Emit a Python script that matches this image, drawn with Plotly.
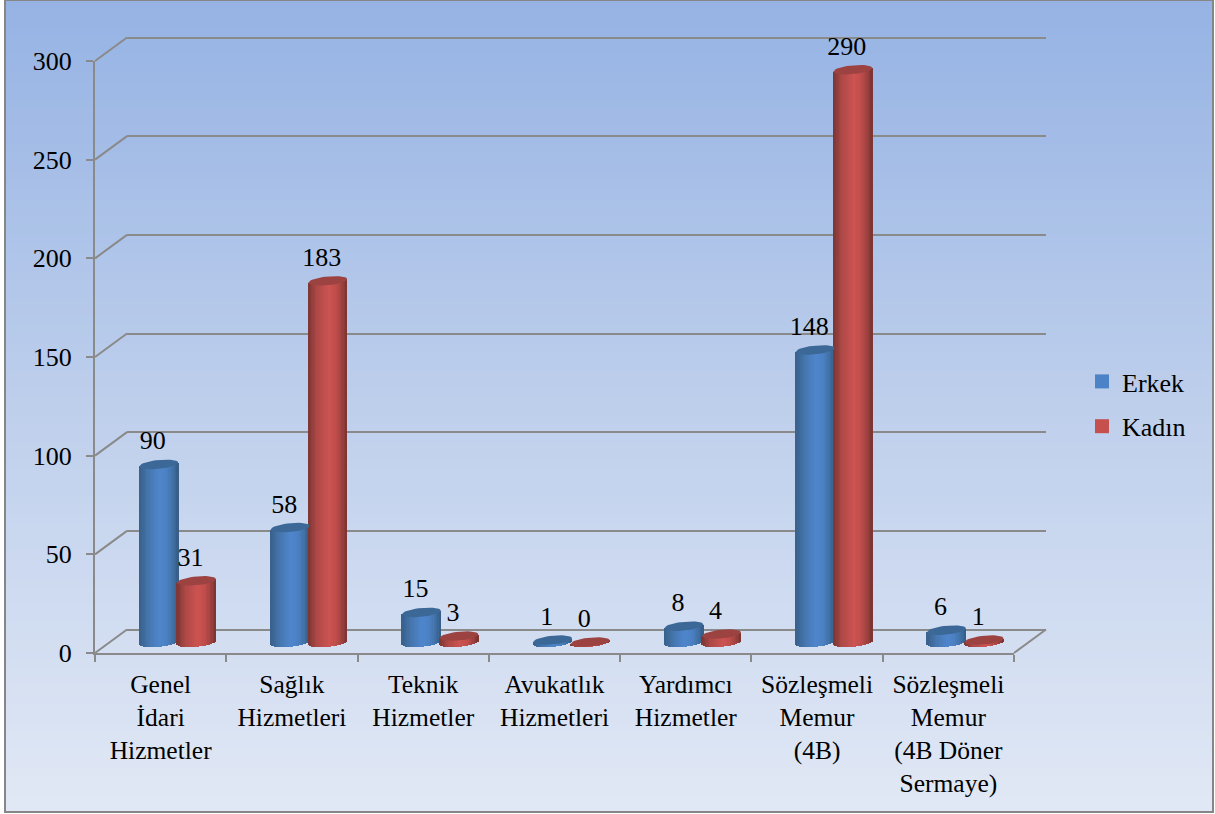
import math
import plotly.graph_objects as go

categories = ["Genel<br>İdari<br>Hizmetler", "Sağlık<br>Hizmetleri", "Teknik<br>Hizmetler",
              "Avukatlık<br>Hizmetleri", "Yardımcı<br>Hizmetler", "Sözleşmeli<br>Memur<br>(4B)",
              "Sözleşmeli<br>Memur<br>(4B Döner<br>Sermaye)"]
erkek = [90, 58, 15, 1, 8, 148, 6]
kadin = [31, 183, 3, 0, 4, 290, 1]
y_ticks = [0, 50, 100, 150, 200, 250, 300]

W, H = 1215, 814
FONT = "Liberation Serif"
FS = 26
GRID = "#8a8a8a"

# plane geometry in pixels
X0, X1 = 95, 1014
Y0, Y300 = 653, 61
DX, DY = 32, 23.5      # wall depth
CX, CY = 17, 11        # cylinder depth
PPU = (Y0 - Y300) / 300
CAT = (X1 - X0) / 7

def fx(p): return p / W
def fy(p): return 1 - p / H

# colours across a cylinder, left edge to right edge
BLUE = [(-1, (56, 96, 140)), (-.6, (68, 116, 170)), (0, (79, 134, 204)), (.45, (75, 128, 195)), (.8, (64, 110, 162)), (1, (54, 92, 132))]
RED = [(-1, (124, 54, 52)), (-.6, (172, 72, 70)), (.05, (205, 84, 82)), (.45, (192, 78, 76)), (.8, (156, 64, 62)), (1, (120, 52, 50))]
TOP_BLUE = "#3c6897"
TOP_RED = "#9c4342"

def shade(stops, u):
    for (a, ca), (b, cb) in zip(stops, stops[1:]):
        if a <= u <= b:
            t = (u - a) / (b - a)
            return "rgb(%d,%d,%d)" % tuple(round(p + (q - p) * t) for p, q in zip(ca, cb))
    return "rgb(%d,%d,%d)" % stops[-1][1]

BW = 38.8 / CAT / 2      # half width in category units
SEP = 18.8 / CAT         # series offset from category centre
EB = 4.4 / PPU           # ellipse semi-minor in value units
TILT = 1.8 / PPU         # ellipse rise from left to right
STRIPS = 30

def cylinder(name, values, sign, stops, top):
    xs, ys, bases, widths, colors = [], [], [], [], []
    order = sorted(range(STRIPS), key=lambda k: abs(k - STRIPS / 2))
    for k in order:
        u = (k + .5) / STRIPS * 2 - 1
        for i, v in enumerate(values):
            low = -EB * math.sqrt(1 - u * u) + TILT * u
            high = v + TILT * u
            xs.append(i + sign * SEP + u * BW)
            bases.append(low)
            ys.append(high - low)
            widths.append(2 * BW / STRIPS * 1.4)
            colors.append(shade(stops, u))
    bar = go.Bar(x=xs, y=ys, base=bases, width=widths, name=name, legendgroup=name, showlegend=False,
                 marker=dict(color=colors, line=dict(width=0)), xaxis="x3", yaxis="y3", hoverinfo="skip")
    ex, ey = [], []
    for i, v in enumerate(values):
        for a in range(0, 41):
            t = 2 * math.pi * a / 40
            ex.append(i + sign * SEP + BW * math.cos(t))
            ey.append(v + EB * math.sin(t) + TILT * math.cos(t))
        ex.append(None); ey.append(None)
    cap = go.Scatter(x=ex, y=ey, mode="lines", fill="toself", fillcolor=top, line=dict(width=0), name=name,
                     legendgroup=name, showlegend=False, xaxis="x3", yaxis="y3", hoverinfo="skip")
    labels = go.Scatter(x=[i + sign * SEP - 6 / CAT for i in range(7)], y=[v + 21.5 / PPU for v in values],
                        text=[str(v) for v in values], mode="text", textposition="middle center",
                        textfont=dict(family=FONT, size=FS, color="black"), cliponaxis=False, name=name,
                        legendgroup=name, showlegend=False, xaxis="x3", yaxis="y3", hoverinfo="skip")
    key = go.Scatter(x=[None], y=[None], mode="markers", name=name, legendgroup=name,
                     marker=dict(symbol="square", size=14, color=shade(stops, .3)), xaxis="x3", yaxis="y3")
    return [bar, cap, labels, key]

fig = go.Figure()
fig.add_trace(go.Scatter(x=categories, y=[0] * 7, mode="none", showlegend=False, hoverinfo="skip"))
fig.add_trace(go.Scatter(x=[0], y=[0], mode="none", showlegend=False, xaxis="x2", yaxis="y2", hoverinfo="skip"))
for tr in cylinder("Erkek", erkek, -1, BLUE, TOP_BLUE) + cylinder("Kadın", kadin, 1, RED, TOP_RED):
    fig.add_trace(tr)

# background gradient, wall connectors, frame
shapes = []
N = 90
g0, g1, g2 = (150, 179, 228), (190, 207, 236), (225, 232, 245)
for i in range(N):
    t = i / (N - 1)
    c = [round(a + (b - a) * t * 2) for a, b in zip(g0, g1)] if t < .5 else [round(a + (b - a) * (t - .5) * 2) for a, b in zip(g1, g2)]
    shapes.append(dict(type="rect", xref="paper", yref="paper", x0=fx(5), x1=fx(1213),
                       y0=fy(812 * i / N), y1=fy(812 * (i + 1) / N + 1), layer="below",
                       line=dict(width=0), fillcolor="rgb(%d,%d,%d)" % tuple(c)))
for v in y_ticks:
    py = Y0 - v * PPU
    shapes.append(dict(type="line", xref="paper", yref="paper", x0=fx(X0), x1=fx(X0 + DX), y0=fy(py), y1=fy(py - DY),
                       layer="below", line=dict(color=GRID, width=2)))
shapes.append(dict(type="line", xref="paper", yref="paper", x0=fx(X1), x1=fx(X1 + DX), y0=fy(Y0), y1=fy(Y0 - DY),
                   layer="below", line=dict(color=GRID, width=2)))
shapes.append(dict(type="rect", xref="paper", yref="paper", x0=fx(5), x1=fx(1213), y0=fy(812), y1=fy(0),
                   layer="below", line=dict(color="#868686", width=2)))

EXT = 8   # value units of headroom below zero for cylinder bases
TOPX = 25 # value units of headroom above 300 so the tallest label is kept
PAD = 5   # value units around the back wall so its outer gridlines are kept
fig.update_layout(
    width=W, height=H, margin=dict(l=0, r=0, t=0, b=0, autoexpand=False), paper_bgcolor="white", plot_bgcolor="rgba(0,0,0,0)",
    barmode="overlay", bargap=0, shapes=shapes,
    font=dict(family=FONT, size=FS, color="black"),
    xaxis=dict(type="category", categoryorder="array", categoryarray=categories, range=[-.5, 6.5],
               domain=[fx(X0), fx(X1)], anchor="y", showgrid=False, zeroline=False, showline=True,
               linecolor=GRID, linewidth=2, ticks="outside", ticklen=7, tickwidth=2, tickcolor=GRID,
               tickson="boundaries", tickangle=0, ticklabelstandoff=7, tickfont=dict(family=FONT, size=25.5)),
    yaxis=dict(range=[0, 300], domain=[fy(Y0), fy(Y300)], anchor="x", tickvals=y_ticks, showgrid=False,
               zeroline=False, showline=True, linecolor=GRID, linewidth=2, ticks="outside", ticklen=7,
               tickwidth=2, tickcolor=GRID, ticklabelstandoff=9, tickfont=dict(family=FONT, size=FS)),
    xaxis2=dict(range=[-.5, 6.5], domain=[fx(X0 + DX), fx(X1 + DX)], anchor="y2", visible=False),
    yaxis2=dict(range=[-PAD, 300 + PAD], domain=[fy(Y0 - DY + PAD * PPU), fy(Y300 - DY - PAD * PPU)], anchor="x2", tickvals=y_ticks,
                showgrid=True, gridcolor=GRID, gridwidth=2, zeroline=False,
                showticklabels=False, ticks="", showline=False),
    xaxis3=dict(range=[-.5, 6.5], domain=[fx(X0 + CX), fx(X1 + CX)], anchor="y3", visible=False),
    yaxis3=dict(range=[-EXT, 300 + TOPX], domain=[fy(Y0 - CY + EXT * PPU), fy(Y300 - CY - TOPX * PPU)], anchor="x3", visible=False),
    legend=dict(x=fx(1082), y=fy(358), xanchor="left", yanchor="top", bgcolor="rgba(0,0,0,0)",
                tracegroupgap=8, font=dict(family=FONT, size=FS, color="black")),
)
fig.write_html("out.html", config=dict(displayModeBar=False),
               post_script="document.body.style.margin='0';document.body.style.overflow='hidden';")
